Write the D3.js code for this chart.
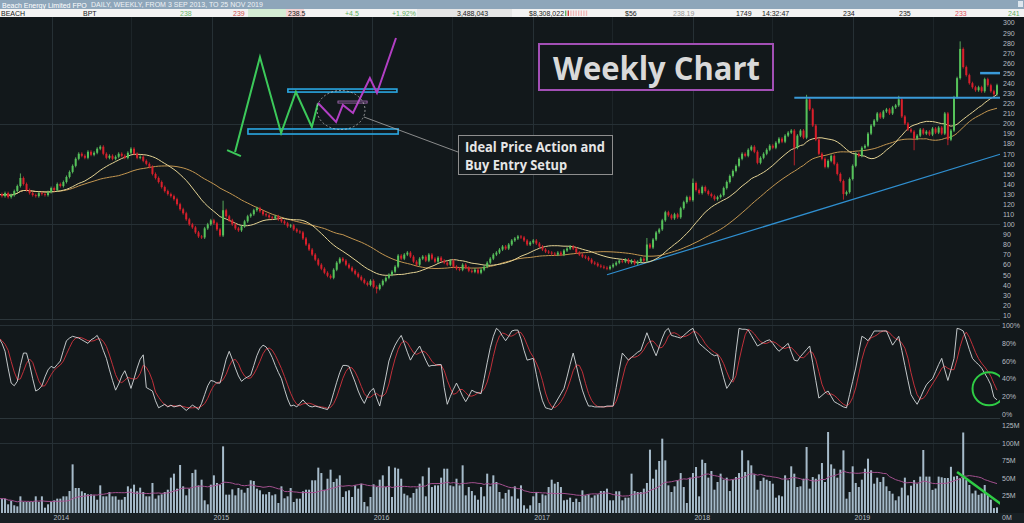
<!DOCTYPE html>
<meta charset="utf-8">
<style>
  body { margin: 0; background: #12181b; overflow: hidden; }
  svg { display: block; }
  .axis text { font: 7px "Liberation Sans", Arial, sans-serif; fill: #b7bdc1; }
  .hdr text { font: 7px "Liberation Sans", Arial, sans-serif; }
</style>
<body>
<script src="https://d3js.org/d3.v7.min.js"></script>
<script>
// weekly closes, 2 Sep 2013 .. 25 Nov 2019 (one per week)
var closes = [
  130,128,131,127,129,133,138,146,140,134,
  131,129,128,131,130,129,132,136,134,140,
  138,142,147,152,158,165,170,168,166,172,
  169,171,175,177,170,166,168,165,167,170,
  168,166,171,175,170,166,167,163,160,157,
  150,146,142,137,133,130,128,125,120,115,
  111,105,100,97,92,88,87,96,100,104,
  101,95,89,114,108,104,100,96,94,98,
  103,108,110,114,116,113,110,109,107,106,
  108,105,103,101,98,99,95,93,92,86,
  80,75,70,65,60,56,52,49,47,55,
  62,66,64,60,57,54,51,48,45,42,
  40,44,38,36,40,44,47,50,53,58,
  69,66,70,72,68,63,60,66,68,64,
  70,66,63,67,64,62,60,64,58,56,
  55,60,57,54,53,55,52,55,58,62,
  66,70,72,75,78,76,80,84,86,88,
  87,84,80,82,84,81,78,75,73,72,
  71,70,72,70,74,76,78,76,72,70,
  68,67,65,62,61,59,58,57,56,58,
  60,62,64,63,65,62,64,61,63,66,
  64,80,77,85,92,95,104,112,109,106,
  110,107,116,122,127,124,141,134,131,137,
  133,130,128,125,127,129,136,142,148,153,
  158,165,170,168,174,177,172,161,166,170,
  174,178,176,181,185,182,188,191,193,176,
  188,193,186,224,214,198,184,170,165,157,
  163,168,160,150,143,130,132,145,158,170,
  168,176,178,190,198,203,210,206,212,214,
  210,216,218,224,207,200,194,192,185,188,
  194,190,192,189,195,191,196,190,210,184,
  193,226,245,274,256,248,240,236,233,236,
  232,244,238,232,229,238
];

// notable wicks: [week, price]
var wickHighs = [[7, 149], [73, 122], [211, 85], [226, 144], [263, 227], [293, 226], [313, 280]];
var wickLows = [[123, 33], [259, 160], [275, 126], [298, 175], [309, 180]];

// weekly volume, millions
var volumes = [
  20.5,20.5,20.5,12.4,17.1,11,9.5,23.8,15.7,15.7,
  15.7,15.7,23.8,15.7,23.8,7.6,12.4,15.7,18.1,20.5,
  20.5,23.8,23.8,31.4,69.5,35.7,35.7,31,28.6,26.7,
  26.7,25.2,19,39.5,23.8,23.8,30,23.8,23.8,19,
  19,22.9,38.1,34.8,40.5,31,36.2,30,23.8,23.8,
  42.9,20.5,25.2,26.7,30,33.3,50.5,56.2,34.8,68.6,
  38.1,25.2,34.8,57.1,61.9,39.5,47.6,18.1,12.4,40.5,
  53.8,42.9,40.5,95.2,26.2,26.2,33.8,25.2,35.7,33.3,
  29,35.7,46.7,45.7,34.8,32.4,26.7,26.7,30,25.2,
  26.7,14.3,38.1,21,23.8,35.7,15.7,20.5,20.5,31,
  33.3,33.3,46.7,46.7,64.8,57.1,33.3,49,61.9,44.3,
  49,53.8,22.9,31,32.4,22.9,39.5,34.8,41.9,15.7,
  9.5,22.9,41,37.1,47.6,53.8,37.1,66.7,22.9,64.8,
  63.3,49,27.6,25.2,21.9,28.6,34.8,41.9,52.4,23.8,
  64.8,37.1,39.5,39.5,50.5,63.3,63.3,39.5,38.1,49,
  39.5,68.1,25.2,37.1,31.4,25.2,19,37.1,23.8,56.2,
  38.1,53.8,44.3,30,20.5,28.6,33.3,
  23.8,38.1,20.5,39.5,11,6.2,11,23.8,30,14.3,
  26.7,25.2,37.1,47.6,41.9,44.3,37.1,18.1,19,21.9,
  15.7,20.5,15.7,32.4,25.2,26.7,21.9,25.2,26.7,31.4,
  31.4,34.8,18.1,18.1,31,31,18.1,21.9,21.9,56.2,
  31.4,30,30,34.8,42.9,90.5,49,61.9,74.3,106.2,
  75.2,39.5,30,38.1,46.7,57.1,37.1,14.3,50.5,57.1,
  65.7,23.8,76.2,71.4,50.5,60,33.3,44.3,56.2,47.6,
  50.5,31.4,47.6,51.4,57.1,89.5,58.6,75.2,68.1,55.2,
  33.3,45.7,50.5,47.6,45.7,41.9,21.9,25.2,23.8,53.8,
  46.7,66.7,56.2,37.1,38.1,49,94.3,34.8,51.4,49,
  55.2,71.4,44.3,115.7,69.5,63.3,50.5,61.9,89.5,20.5,
  30,66.7,42.9,37.1,47.6,63.3,77.6,61,41.9,50.5,
  44.3,51.4,38.1,31.4,27.6,18.1,23.8,36.2,50.5,25.2,
  39,47,42,52,90,52,52,33,35,52,
  51,50,50,66,52,53,50,115,47,40,
  28,32,26,28,40,26,19,7,8
];

// slow stochastic %K, weekly
var stochK = [
  86,80,71,52,35,32,37,55,69,69,
  56,40,26,28,32,42,50,54,52,56,
  60,72,83,86,88,87,86,84,82,80,
  84,86,89,82,72,63,50,38,27,34,
  43,49,40,29,40,52,62,67,30,28,
  26,15,7,9,11,8,10,8,9,10,
  7,4,7,10,8,5,12,22,32,38,
  37,35,35,48,62,71,62,52,43,37,
  40,42,44,55,66,74,78,76,71,64,
  55,47,40,28,17,9,10,8,12,16,
  12,9,8,9,8,7,6,5,12,24,
  36,47,55,55,54,45,36,26,18,12,
  20,26,29,18,9,25,42,60,70,78,
  84,89,80,70,61,67,72,77,69,61,
  54,55,55,56,56,30,11,20,28,35,
  28,20,14,20,27,25,24,23,40,58,
  75,88,97,94,88,83,88,94,95,95,
  85,72,61,62,63,45,28,15,7,6,
  5,11,17,23,29,42,56,69,55,40,
  27,17,9,9,8,8,8,8,9,9,
  9,30,50,69,65,61,64,67,70,72,
  82,92,83,74,66,76,86,94,97,89,
  88,87,86,89,92,95,97,88,80,77,
  74,71,68,66,67,54,41,29,34,40,
  70,97,96,96,95,89,83,77,79,81,
  83,84,80,75,71,74,77,80,70,61,
  60,65,69,73,77,58,38,18,21,24,
  26,20,14,12,10,8,7,22,37,52,
  70,88,86,83,88,94,94,94,94,94,
  86,78,83,88,72,55,38,22,16,11,
  18,26,33,37,40,48,56,63,50,38,
  50,63,97,96,94,84,73,63,59,56,
  52,46,40,33,19,16
];

var priceTicks = d3.range(10, 301, 10);
var stochTicks = [0, 20, 40, 60, 80, 100];
var volTicks = [0, 25, 50, 75, 100, 125];

// drawn annotations, in [week, price] units
var resistance = [[259, 225.5], [326, 225.5]];
var resistance2 = [[319.5, 250], [326, 250]];
var trendLine = [[198, 50], [326, 169.5]];
var greenPath = [[76.9, 171.7], [85, 266], [91.9, 190.6], [96.7, 231.3], [101.9, 196.6], [103.9, 220.3]];
var greenStub = [[74.3, 173.7], [78.8, 167.7]];
var purplePath = [[103.9, 220.3], [109.8, 201.5], [112, 218.4], [115.3, 210.4], [120.8, 245.1], [123.1, 230.3], [129.3, 284.8]];
var boxTop = [94.1, 129.6, 231.2, 234.2];
var boxBottom = [81.1, 130, 189.6, 194.6];
var purpleMark = [110.4, 119.9, 220.3, 222.3];
var ellipseC = [111.4, 213.4];

var header1 = "Beach Energy Limited FPO";
var header1b = "DAILY, WEEKLY, FROM 3 SEP 2013, TO 25 NOV 2019";
var quoteRow = [
  ["BEACH", 1, "#222"], ["BPT", 83, "#222"], ["238", 180, "#6bb56b"], ["239", 233, "#d05050"],
  ["238.5", 288, "#222"], ["+4.5", 345, "#5fae5f"], ["+1.92%", 392, "#5fae5f"], ["3,488,043", 457, "#222"],
  ["$8,308,022", 529, "#222"], ["$56", 625, "#222"], ["238.19", 673, "#999"], ["1749", 736, "#222"],
  ["14:32:47", 762, "#222"], ["234", 843, "#222"], ["235", 899, "#222"], ["233", 955, "#e05060"], ["241", 1008, "#5fae5f"]
];

var W = 1024, H = 523;
var weeks = d3.timeMonday.range(new Date(2013, 8, 2), new Date(2019, 10, 26));

var x = d3.scaleTime().domain([weeks[0], weeks[weeks.length - 1]]).range([-1.1, 997]);
var xi = d3.scaleLinear().domain([0, weeks.length - 1]).range(x.range());
var yP = d3.scaleLinear().domain([10, 300]).range([315.1, 22.7]);
var yS = d3.scaleLinear().domain([0, 100]).range([414, 325.7]);
var yV = d3.scaleLinear().domain([0, 125]).range([513, 425.5]);

function sma(arr, n) {
  return arr.map(function(d, i) {
    var s = arr.slice(Math.max(0, i - n + 1), i + 1);
    return d3.mean(s);
  });
}
var maFast = sma(closes, 20), maSlow = sma(closes, 40);
var stochD = sma(stochK, 4);
var volMa = sma(volumes, 20);

var svg = d3.select("body").append("svg").attr("width", W).attr("height", H);
svg.append("rect").attr("width", W).attr("height", H).attr("fill", "#12181b");
svg.append("rect").attr("y", 513).attr("width", W).attr("height", 10).attr("fill", "#182024");

// grid
var grid = svg.append("g").attr("stroke", "#263035").attr("stroke-width", 1);
var years = d3.timeYear.range(new Date(2014, 0, 1), new Date(2020, 0, 1));
var halves = d3.timeMonth.every(6).range(new Date(2014, 0, 1), new Date(2020, 0, 1)).filter(function(d) { return d.getMonth() === 6; });
grid.selectAll(".vy").data(years).enter().append("line")
  .attr("x1", function(d) { return Math.round(x(d)) + 0.5; }).attr("x2", function(d) { return Math.round(x(d)) + 0.5; })
  .attr("y1", 17).attr("y2", 513);
grid.selectAll(".vh").data(halves).enter().append("line")
  .attr("stroke", "#1d2529")
  .attr("x1", function(d) { return Math.round(x(d)) + 0.5; }).attr("x2", function(d) { return Math.round(x(d)) + 0.5; })
  .attr("y1", 17).attr("y2", 513);
grid.selectAll(".hp").data([100, 200]).enter().append("line")
  .attr("x1", 0).attr("x2", 1000)
  .attr("y1", function(d) { return Math.round(yP(d)) + 0.5; }).attr("y2", function(d) { return Math.round(yP(d)) + 0.5; });
grid.append("line").attr("x1", 0).attr("x2", 1000).attr("y1", 325.5).attr("y2", 325.5);
grid.append("line").attr("x1", 0).attr("x2", 1000).attr("y1", 443.5).attr("y2", 443.5);
// panel separators
svg.append("line").attr("x1", 0).attr("x2", W).attr("y1", 319.5).attr("y2", 319.5).attr("stroke", "#2c363b");
svg.append("line").attr("x1", 0).attr("x2", W).attr("y1", 418.5).attr("y2", 418.5).attr("stroke", "#2c363b");

// trend line
var lineP = d3.line().x(function(d) { return xi(d[0]); }).y(function(d) { return yP(d[1]); });
svg.append("path").attr("d", lineP(trendLine)).attr("fill", "none").attr("stroke", "#2f8fd0").attr("stroke-width", 1.2);

// moving averages
var maLine = function(arr) {
  return d3.line().x(function(d, i) { return x(weeks[i]); }).y(function(d) { return yP(d); })(arr);
};
svg.append("path").attr("d", maLine(maSlow)).attr("fill", "none").attr("stroke", "#c39650").attr("stroke-width", 1);
svg.append("path").attr("d", maLine(maFast)).attr("fill", "none").attr("stroke", "#e4d394").attr("stroke-width", 1);

// candles
var candles = closes.map(function(c, i) {
  var o = i ? closes[i - 1] : c;
  var hi = Math.max(o, c), lo = Math.min(o, c);
  wickHighs.forEach(function(w) { if (w[0] === i) hi = Math.max(hi, w[1]); });
  wickLows.forEach(function(w) { if (w[0] === i) lo = Math.min(lo, w[1]); });
  return { date: weeks[i], o: o, c: c, hi: hi, lo: lo, up: c >= o };
});
var cg = svg.append("g").selectAll("g").data(candles).enter().append("g");
cg.append("line")
  .attr("x1", function(d) { return x(d.date); }).attr("x2", function(d) { return x(d.date); })
  .attr("y1", function(d) { return yP(d.hi) - 1.5; }).attr("y2", function(d) { return yP(d.lo) + 1.5; })
  .attr("stroke", function(d) { return d.up ? "#66cc6a" : "#e0232e"; }).attr("stroke-width", 0.8);
cg.append("rect")
  .attr("x", function(d) { return x(d.date) - 1; }).attr("width", 2)
  .attr("y", function(d) { return yP(Math.max(d.o, d.c)); })
  .attr("height", function(d) { return Math.max(1, Math.abs(yP(d.o) - yP(d.c))); })
  .attr("fill", function(d) { return d.up ? "#55c25a" : "#d91f2b"; });

svg.append("path").attr("d", lineP(resistance)).attr("stroke", "#3a9ad9").attr("stroke-width", 2).attr("fill", "none");
svg.append("path").attr("d", lineP(resistance2)).attr("stroke", "#3a9ad9").attr("stroke-width", 2.5).attr("fill", "none");

// ideal price action sketch
function boxRect(b, col, sw) {
  svg.append("rect").attr("x", xi(b[0])).attr("width", xi(b[1]) - xi(b[0]))
    .attr("y", yP(b[3])).attr("height", yP(b[2]) - yP(b[3]))
    .attr("fill", "none").attr("stroke", col).attr("stroke-width", sw);
}
boxRect(boxTop, "#2aa7e2", 1.6);
boxRect(boxBottom, "#2aa7e2", 1.6);
svg.append("path").attr("d", lineP(greenStub)).attr("stroke", "#3cc95a").attr("stroke-width", 2).attr("fill", "none");
svg.append("path").attr("d", lineP(greenPath)).attr("stroke", "#3cc95a").attr("stroke-width", 2).attr("fill", "none");
svg.append("path").attr("d", lineP(purplePath)).attr("stroke", "#b23fc4").attr("stroke-width", 2).attr("fill", "none");
boxRect(purpleMark, "#b070c0", 0.8);
svg.append("ellipse").attr("cx", xi(ellipseC[0])).attr("cy", yP(ellipseC[1])).attr("rx", 24).attr("ry", 19.5)
  .attr("fill", "none").attr("stroke", "#c8c8c8").attr("stroke-width", 0.7).attr("stroke-dasharray", "2,2");
svg.append("line").attr("x1", xi(ellipseC[0]) + 23).attr("y1", yP(ellipseC[1]) + 7).attr("x2", 458).attr("y2", 152)
  .attr("stroke", "#a8a8a8").attr("stroke-width", 0.8);

// annotation boxes
svg.append("rect").attr("x", 458.5).attr("y", 135.5).attr("width", 154).attr("height", 39)
  .attr("fill", "#141a1d").attr("stroke", "#8e8e8e").attr("stroke-width", 1);
svg.append("text").attr("x", 465).attr("y", 152).attr("fill", "#e6e6e6")
  .attr("font-family", "Open Sans, sans-serif").attr("font-weight", 700).attr("font-size", 13.5)
  .attr("textLength", 140).attr("lengthAdjust", "spacingAndGlyphs").text("Ideal Price Action and");
svg.append("text").attr("x", 465).attr("y", 170).attr("fill", "#e6e6e6")
  .attr("font-family", "Open Sans, sans-serif").attr("font-weight", 700).attr("font-size", 13.5)
  .attr("textLength", 102).attr("lengthAdjust", "spacingAndGlyphs").text("Buy Entry Setup");

svg.append("rect").attr("x", 539).attr("y", 44).attr("width", 234).attr("height", 46)
  .attr("fill", "#12181b").attr("stroke", "#a24fb5").attr("stroke-width", 2);
svg.append("text").attr("x", 553).attr("y", 80).attr("fill", "#d9d9d9")
  .attr("font-family", "Open Sans, sans-serif").attr("font-weight", 700).attr("font-size", 32)
  .attr("textLength", 207).attr("lengthAdjust", "spacingAndGlyphs").text("Weekly Chart");

// stochastic
var sLine = function(arr) {
  return d3.line().x(function(d, i) { return x(weeks[i]); }).y(function(d) { return yS(d); })(arr);
};
svg.append("path").attr("d", sLine(stochD)).attr("fill", "none").attr("stroke", "#c0303a").attr("stroke-width", 1);
svg.append("path").attr("d", sLine(stochK)).attr("fill", "none").attr("stroke", "#d6dadd").attr("stroke-width", 0.9);
svg.append("circle").attr("cx", xi(322.4)).attr("cy", yS(28.5)).attr("r", 16.5)
  .attr("fill", "none").attr("stroke", "#2fcc45").attr("stroke-width", 2);

// volume
svg.append("g").selectAll("rect").data(volumes).enter().append("rect")
  .attr("x", function(d, i) { return x(weeks[i]) - 1; }).attr("width", 2)
  .attr("y", function(d) { return yV(d); }).attr("height", function(d) { return yV(0) - yV(d); })
  .attr("fill", "#a6bbca");
svg.append("path").attr("d", d3.line().x(function(d, i) { return x(weeks[i]); }).y(function(d) { return yV(d); })(volMa))
  .attr("fill", "none").attr("stroke", "#a4508f").attr("stroke-width", 1);
svg.append("line").attr("x1", xi(312)).attr("y1", yV(58.6)).attr("x2", xi(327.6)).attr("y2", yV(8.6))
  .attr("stroke", "#2fcc45").attr("stroke-width", 2.5);

// right axes
svg.append("rect").attr("x", 1000).attr("y", 17).attr("width", 24).attr("height", 496).attr("fill", "#12181b");
var ap = svg.append("g").attr("class", "axis").attr("transform", "translate(1000,0)")
  .call(d3.axisRight(yP).tickValues(priceTicks).tickSize(0).tickPadding(3));
ap.select(".domain").remove();
var as = svg.append("g").attr("class", "axis").attr("transform", "translate(1000,0)")
  .call(d3.axisRight(yS).tickValues(stochTicks).tickSize(0).tickPadding(2).tickFormat(function(d) { return d + "%"; }));
as.select(".domain").remove();
var av = svg.append("g").attr("class", "axis").attr("transform", "translate(1000,0)")
  .call(d3.axisRight(yV).tickValues(volTicks).tickSize(0).tickPadding(2).tickFormat(function(d) { return d + "M"; }));
av.select(".domain").remove();
av.selectAll(".tick").filter(function(d) { return d === 0; }).select("text").attr("dy", "0.9em");

// time axis
var ax = svg.append("g").attr("class", "axis").attr("transform", "translate(0,513)")
  .call(d3.axisBottom(x).tickValues(years).tickSize(0).tickPadding(2).tickFormat(d3.timeFormat("%Y")));
ax.select(".domain").remove();
ax.selectAll("text").attr("text-anchor", "start").attr("dx", 1).attr("fill", "#9aa3a8");

// header
var hdr = svg.append("g").attr("class", "hdr");
hdr.append("rect").attr("width", W).attr("height", 9).attr("fill", "#8ea6ba");
hdr.append("rect").attr("y", 9).attr("width", W).attr("height", 8).attr("fill", "#f3f3f3");
hdr.append("rect").attr("x", 248).attr("y", 9).attr("width", 38).attr("height", 8).attr("fill", "#d4ecd4");
hdr.append("rect").attr("x", 286).attr("y", 9).attr("width", 18).attr("height", 8).attr("fill", "#f2d4d4");
hdr.append("rect").attr("x", 417).attr("y", 9).attr("width", 95).attr("height", 8).attr("fill", "#e6e6e6");
hdr.append("rect").attr("x", 1018).attr("y", 1).attr("width", 5).attr("height", 6).attr("fill", "#dde6ee");
hdr.append("text").attr("x", 2).attr("y", 7.5).attr("fill", "#fff").attr("font-weight", 700).attr("font-size", 7.5).text(header1);
hdr.append("text").attr("x", 91).attr("y", 7).attr("fill", "#eef2f5").attr("font-size", 4.8).text(header1b);
hdr.selectAll(".q").data(quoteRow).enter().append("text")
  .attr("x", function(d) { return d[1]; }).attr("y", 15.8).attr("font-size", 6.5)
  .attr("fill", function(d) { return d[2]; }).text(function(d) { return d[0]; });
var miniBars = [1, 1, 0, 0, 0, 0, 0, 0, 0];
hdr.selectAll(".mb").data(miniBars).enter().append("rect")
  .attr("x", function(d, i) { return 565 + i * 2.6; }).attr("y", 10.5).attr("width", 1.4).attr("height", 5.5)
  .attr("fill", function(d, i) { return i === 0 ? "#5fae5f" : (i === 1 ? "#d04040" : "#f0b8b8"); });
</script>
</body>
